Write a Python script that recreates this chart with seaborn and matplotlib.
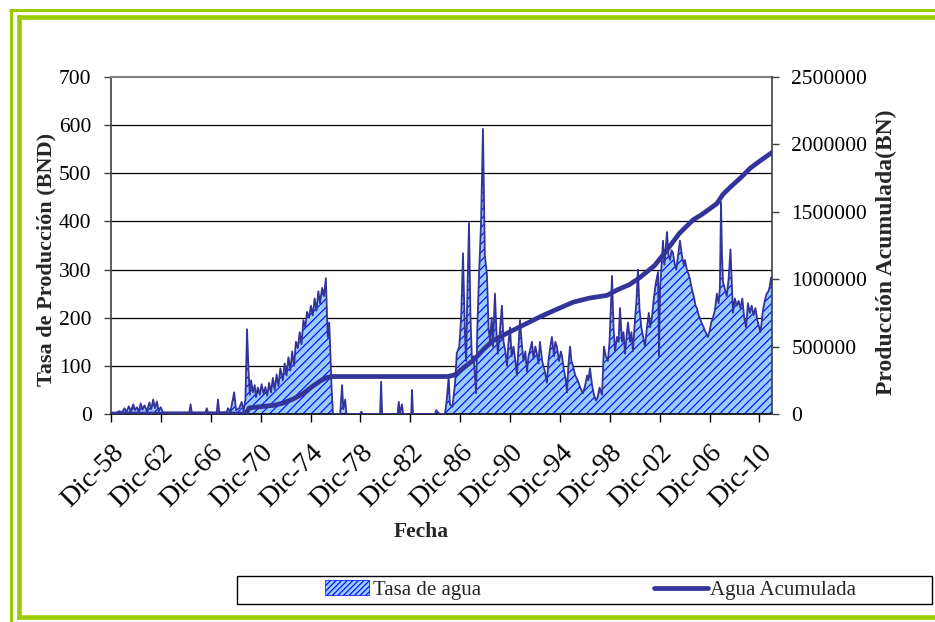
import numpy as np
import pandas as pd
import seaborn as sns
import matplotlib.pyplot as plt
from matplotlib.patches import Patch, Rectangle
from matplotlib.lines import Line2D

# water rate (BND), x in decimal years
rate_year = [1958.92, 1959.3, 1959.6, 1959.8, 1960.0, 1960.15, 1960.35, 1960.5, 1960.7, 1960.85,
             1961.0, 1961.15, 1961.3, 1961.45, 1961.6, 1961.8, 1962.0, 1962.15, 1962.3, 1962.45,
             1962.6, 1962.75, 1962.9, 1963.1, 1964.0, 1965.2, 1965.3, 1965.4, 1966.5, 1966.6,
             1966.7, 1967.4, 1967.5, 1967.6, 1968.2, 1968.3, 1968.5, 1968.8, 1968.95, 1969.2,
             1969.4, 1969.55, 1969.7, 1969.83, 1969.95, 1970.05, 1970.15, 1970.3, 1970.45, 1970.55,
             1970.7, 1970.85, 1971.0, 1971.15, 1971.3, 1971.45, 1971.6, 1971.75, 1971.9, 1972.05,
             1972.2, 1972.35, 1972.5, 1972.7, 1972.85, 1973.0, 1973.15, 1973.3, 1973.45, 1973.6,
             1973.75, 1973.9, 1974.05, 1974.2, 1974.35, 1974.5, 1974.64, 1974.8, 1974.95, 1975.1,
             1975.25, 1975.4, 1975.55, 1975.68, 1975.85, 1976.0, 1976.15, 1976.3, 1976.42, 1976.5,
             1976.6, 1976.72, 1977.3, 1977.45, 1977.55, 1977.7, 1977.8, 1978.9, 1979.0, 1979.1,
             1980.5, 1980.58, 1980.66, 1981.9, 1982.0, 1982.08, 1982.25, 1982.35, 1983.0, 1983.06,
             1983.14, 1984.9, 1985.0, 1985.15, 1985.3, 1985.7, 1985.85, 1986.0, 1986.1, 1986.3,
             1986.5, 1986.65, 1986.85, 1987.0, 1987.15, 1987.3, 1987.4, 1987.5, 1987.63, 1987.75,
             1987.87, 1988.0, 1988.2, 1988.3, 1988.43, 1988.6, 1988.75, 1988.9, 1989.07, 1989.2,
             1989.31, 1989.45, 1989.55, 1989.71, 1989.85, 1989.95, 1990.1, 1990.27, 1990.4, 1990.55,
             1990.68, 1990.8, 1990.92, 1991.05, 1991.2, 1991.35, 1991.48, 1991.6, 1991.72, 1991.85,
             1992.0, 1992.15, 1992.28, 1992.4, 1992.55, 1992.68, 1992.8, 1992.95, 1993.08, 1993.2,
             1993.32, 1993.5, 1993.7, 1993.88, 1994.0, 1994.15, 1994.28, 1994.45, 1994.55, 1994.68,
             1994.85, 1995.0, 1995.09, 1995.25, 1995.4, 1995.49, 1995.6, 1995.73, 1995.85, 1995.97,
             1996.15, 1996.35, 1996.55, 1996.77, 1996.95, 1997.1, 1997.2, 1997.33, 1997.5, 1997.65,
             1997.81, 1997.95, 1998.1, 1998.3, 1998.45, 1998.6, 1998.77, 1998.9, 1999.1, 1999.22,
             1999.34, 1999.5, 1999.62, 1999.74, 1999.9, 2000.02, 2000.14, 2000.26, 2000.38, 2000.55,
             2000.66, 2000.78, 2000.95, 2001.05, 2001.18, 2001.3, 2001.45, 2001.6, 2001.74, 2001.9,
             2002.05, 2002.15, 2002.3, 2002.45, 2002.6, 2002.79, 2002.87, 2002.95, 2003.05, 2003.19,
             2003.3, 2003.51, 2003.63, 2003.75, 2003.87, 2003.99, 2004.1, 2004.25, 2004.4, 2004.55,
             2004.7, 2004.85, 2004.95, 2005.1, 2005.25, 2005.35, 2005.5, 2005.65, 2005.8, 2005.91,
             2006.05, 2006.2, 2006.31, 2006.45, 2006.6, 2006.79, 2006.95, 2007.05, 2007.19, 2007.35,
             2007.51, 2007.65, 2007.75, 2007.84, 2007.92, 2008.0, 2008.15, 2008.3, 2008.45, 2008.6,
             2008.72, 2008.8, 2008.95, 2009.1, 2009.25, 2009.4, 2009.55, 2009.7, 2009.85, 2010.0,
             2010.15, 2010.3, 2010.45, 2010.6, 2010.75, 2010.9, 2011.0, 2011.1, 2011.2, 2011.35,
             2011.5, 2011.65, 2011.75, 2011.85, 2011.93]
rate_val = [0, 2, 6, 3, 12, 4, 16, 5, 20, 8,
            14, 5, 22, 9, 18, 6, 24, 10, 30, 12,
            26, 6, 14, 3, 3, 3, 20, 3, 3, 12,
            3, 3, 30, 3, 4, 12, 5, 45, 8, 12,
            25, 6, 30, 176, 90, 40, 70, 45, 60, 35,
            55, 40, 62, 42, 56, 38, 65, 45, 75, 50,
            82, 58, 95, 70, 105, 80, 118, 90, 130, 100,
            150, 137, 170, 145, 195, 180, 212, 200, 225, 205,
            240, 215, 255, 230, 262, 245, 282, 160, 190, 138,
            60, 0, 0, 60, 10, 30, 0, 0, 5, 0,
            0, 67, 0, 0, 25, 0, 20, 0, 0, 50,
            0, 0, 8, 3, 0, 0, 30, 77, 20, 15,
            60, 126, 140, 200, 334, 170, 110, 250, 397, 200,
            110, 120, 43, 180, 285, 400, 592, 330, 290, 180,
            150, 200, 140, 250, 160, 125, 170, 225, 150, 130,
            100, 150, 180, 120, 140, 110, 80, 140, 195, 150,
            110, 130, 88, 120, 135, 150, 115, 140, 125, 105,
            150, 110, 90, 65, 110, 140, 160, 120, 150, 140,
            110, 130, 120, 90, 70, 45, 100, 140, 110, 100,
            80, 70, 55, 43, 60, 80, 70, 95, 60, 40,
            28, 35, 55, 40, 140, 120, 110, 150, 287, 180,
            130, 160, 150, 220, 150, 170, 125, 160, 190, 150,
            170, 130, 200, 230, 300, 220, 180, 160, 140, 180,
            210, 180, 200, 240, 270, 295, 120, 260, 300, 360,
            310, 378, 330, 320, 340, 335, 315, 300, 330, 360,
            330, 310, 320, 300, 290, 280, 260, 245, 225, 220,
            205, 195, 188, 180, 170, 160, 175, 190, 200, 215,
            250, 230, 260, 440, 330, 275, 260, 245, 280, 342,
            260, 210, 240, 225, 235, 220, 240, 200, 180, 230,
            210, 225, 205, 220, 195, 180, 170, 190, 215, 235,
            250, 255, 265, 283, 270]

# cumulative water (BN)
cum_year = [1958.92, 1969.7, 1969.85, 1970.0, 1971.0, 1972.0, 1972.7, 1973.5, 1974.3, 1975.0,
            1975.7, 1976.2, 1976.7, 1985.9, 1986.5, 1987.3, 1988.0, 1988.8, 1989.5, 1990.7,
            1992.0, 1993.3, 1994.5, 1996.0, 1997.3, 1998.7, 1999.5, 2000.5, 2001.3, 2002.5,
            2003.5, 2004.5, 2005.6, 2006.3, 2007.5, 2008.0, 2008.6, 2009.5, 2010.2, 2011.0,
            2011.93]
cum_val = [0, 0, 20000, 45000, 55000, 65000, 80000, 110000, 150000, 200000,
           245000, 270000, 278000, 278000, 290000, 350000, 400000, 480000, 540000, 600000,
           660000, 720000, 770000, 830000, 860000, 880000, 920000, 960000, 1010000, 1100000,
           1216000, 1340000, 1440000, 1480000, 1560000, 1630000, 1684000, 1760000, 1825000, 1880000,
           1940000]

tick_years = [1958 + 4 * k for k in range(14)]
tick_labels = [f"Dic-{y % 100:02d}" for y in tick_years]

rate = pd.DataFrame({"fecha": rate_year, "tasa": rate_val})
cum = pd.DataFrame({"fecha": cum_year, "acum": cum_val})

sns.set_theme(style="white")
plt.rcParams['font.family'] = ['Liberation Serif', 'DejaVu Serif']
plt.rcParams['hatch.color'] = 'blue'
plt.rcParams['hatch.linewidth'] = 0.8

navy = '#333399'
green = '#99CC00'

fig = plt.figure(figsize=(9.35, 6.22), dpi=100)
ax = fig.add_axes([111 / 935, 1 - 414 / 622, 661 / 935, 337 / 622])
ax2 = ax.twinx()

ax.fill_between(rate["fecha"], 0, rate["tasa"], facecolor='#99CCFF', edgecolor='blue',
                hatch='////', linewidth=0, zorder=2)
sns.lineplot(data=rate, x="fecha", y="tasa", ax=ax, color=navy, linewidth=1.3, zorder=3)
sns.lineplot(data=cum, x="fecha", y="acum", ax=ax2, color=navy, linewidth=3.4)

x0 = 1958.92
ax.set_xlim(x0, 2011.93)
ax.set_ylim(0, 700)
ax2.set_ylim(0, 2500000)
ax.set_yticks(range(0, 701, 100))
ax2.set_yticks(range(0, 2500001, 500000))
ax2.set_yticklabels([str(v) for v in range(0, 2500001, 500000)])
ax.set_xticks([y + 0.92 for y in tick_years])
ax.set_xticklabels(tick_labels, rotation=45, ha='right', va='top', rotation_mode='anchor')

ax.set_axisbelow(True)
for v in range(100, 700, 100):
    ax.axhline(v, color='black', linewidth=0.9, zorder=0)

for a in (ax, ax2):
    for s in a.spines.values():
        s.set_visible(False)
ax.spines['left'].set_visible(True)
ax.spines['left'].set_color('#404040')
ax.spines['left'].set_linewidth(1.2)
ax.spines['bottom'].set_visible(True)
ax.spines['bottom'].set_color('black')
ax.spines['bottom'].set_linewidth(1.2)
ax.spines['top'].set_visible(True)
ax.spines['top'].set_color('#808080')
ax.spines['top'].set_linewidth(1.6)
ax2.spines['right'].set_visible(True)
ax2.spines['right'].set_color('#404040')
ax2.spines['right'].set_linewidth(1.2)

ax.tick_params(axis='y', which='major', left=True, length=5, width=1, color='#404040',
               pad=9, labelsize=15.5, labelcolor='black')
ax.tick_params(axis='x', which='major', bottom=True, length=6, width=1, color='black',
               pad=13, labelsize=20, labelcolor='black')
ax2.tick_params(axis='y', which='major', right=True, length=5, width=1, color='#404040',
                pad=9, labelsize=15.5, labelcolor='black')

ax.set_ylabel("Tasa de Producción (BND)", fontsize=16, fontweight='bold')
ax.yaxis.set_label_coords(-0.083, 0.46)
ax2.set_ylabel("Producción Acumulada(BN)", fontsize=17, fontweight='bold')
ax2.yaxis.set_label_coords(1.157, 0.48)
ax.set_xlabel("Fecha", fontsize=15.5, fontweight='bold')
ax.xaxis.set_label_coords(0.469, -0.32)

# legend box across the bottom
fig.patches.append(Rectangle((237 / 935, 1 - 604 / 622), 695 / 935, 28 / 622,
                             transform=fig.transFigure, facecolor='white',
                             edgecolor='black', linewidth=1, zorder=1))
h1 = Patch(facecolor='#99CCFF', edgecolor='blue', hatch='//////', linewidth=0.5)
h2 = Line2D([], [], color=navy, linewidth=3.4)
fig.legend([h1], ["Tasa de agua"], loc='center', bbox_to_anchor=(403 / 935, 1 - 590 / 622),
           frameon=False, fontsize=15, handlelength=2.1, handleheight=0.7, handletextpad=0.2)
fig.legend([h2], ["Agua Acumulada"], loc='center', bbox_to_anchor=(755 / 935, 1 - 590 / 622),
           frameon=False, fontsize=15, handlelength=2.6, handletextpad=0.1)

# green double frame
def fline(xs, ys, lw):
    fig.lines.append(Line2D([x / 935 for x in xs], [1 - y / 622 for y in ys],
                            transform=fig.transFigure, color=green, linewidth=lw,
                            solid_capstyle='butt'))

fline([9, 935], [10, 10], 2.2)
fline([10.5, 10.5], [9, 622], 2.2)
fline([17, 935], [17, 17], 3.3)
fline([19, 19], [15, 619], 3.3)
fline([17, 935], [617, 617], 3.3)

fig.savefig("out.png", dpi=100, facecolor='white')
